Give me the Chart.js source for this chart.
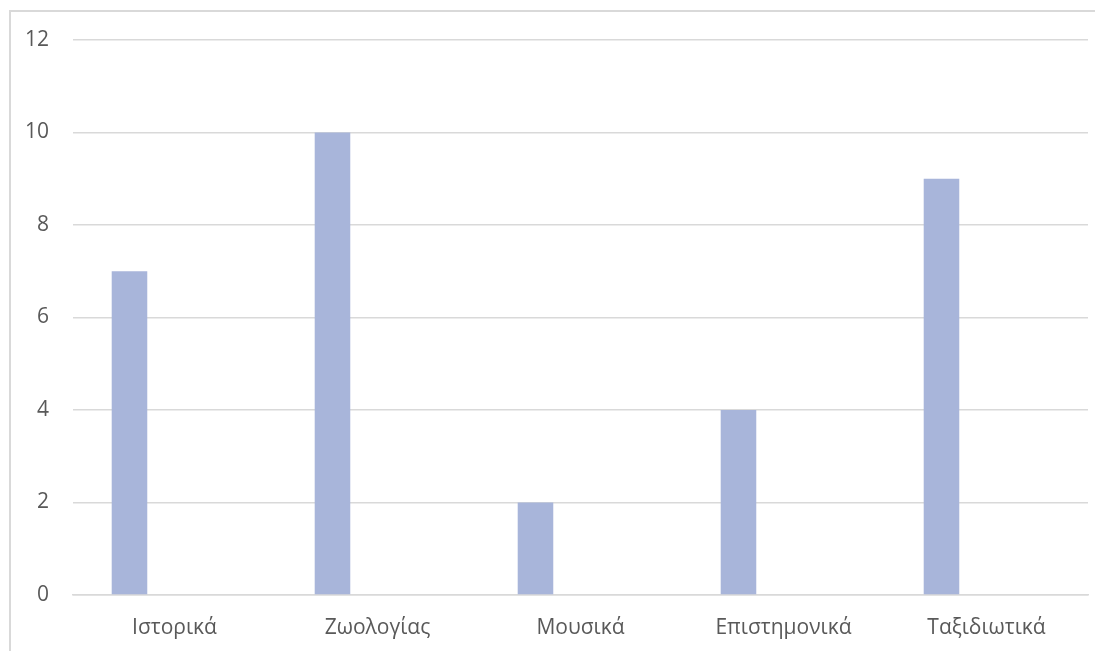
<!DOCTYPE html>
<html>
<head>
<meta charset="utf-8">
<script src="https://cdn.jsdelivr.net/npm/chart.js@4/dist/chart.umd.min.js"></script>
<style>
body{margin:0;background:#fff;}
#frame{position:absolute;left:9px;top:10px;width:1084px;height:700px;border-left:2px solid #d9d9d9;border-top:2px solid #d9d9d9;}
#wrap{position:absolute;left:0;top:0;width:1103px;height:651px;}
</style>
</head>
<body>
<div id="frame"></div>
<div id="wrap"><canvas id="bookChart"></canvas></div>
<script>
const categories = ["Ιστορικά", "Ζωολογίας", "Μουσικά", "Επιστημονικά", "Ταξιδιωτικά"];
const seriesValues = [7, 10, 2, 4, 9];
const emptySeries = [null, null, null, null, null];
const yTicks = [0, 2, 4, 6, 8, 10, 12];

const ctx = document.getElementById("bookChart");

new Chart(ctx, {
    type: "bar",
    data: {
        labels: categories,
        datasets: [{
            label: "Σειρά 1",
            data: seriesValues,
            backgroundColor: "#a8b5da",
            barPercentage: 0.395,
            categoryPercentage: 0.887
        }, {
            label: "",
            data: emptySeries,
            backgroundColor: "#a8b5da",
            barPercentage: 0.395,
            categoryPercentage: 0.887
        }]
    },
    options: {
        responsive: true,
        maintainAspectRatio: false,
        animation: false,
        layout: {
            padding: {left: 0, right: 15, top: 40, bottom: 0}
        },
        plugins: {
            legend: {display: false},
            tooltip: {enabled: false}
        },
        scales: {
            x: {
                afterFit: (axis) => { axis.height = 56; },
                grid: {display: false, drawTicks: false},
                border: {color: "#d9d9d9", width: 1.5},
                ticks: {
                    color: "#595959",
                    font: {family: "Open Sans", size: 21},
                    padding: 20
                }
            },
            y: {
                min: 0,
                max: 12,
                afterBuildTicks: (axis) => {
                    axis.ticks = yTicks.map(v => ({value: v}));
                },
                afterFit: (axis) => { axis.width = 73; },
                grid: {color: "#d9d9d9", lineWidth: 1.5, drawTicks: false},
                border: {display: false},
                ticks: {
                    color: "#595959",
                    font: {family: "Open Sans", size: 21},
                    padding: 24
                }
            }
        }
    }
});
</script>
</body>
</html>
